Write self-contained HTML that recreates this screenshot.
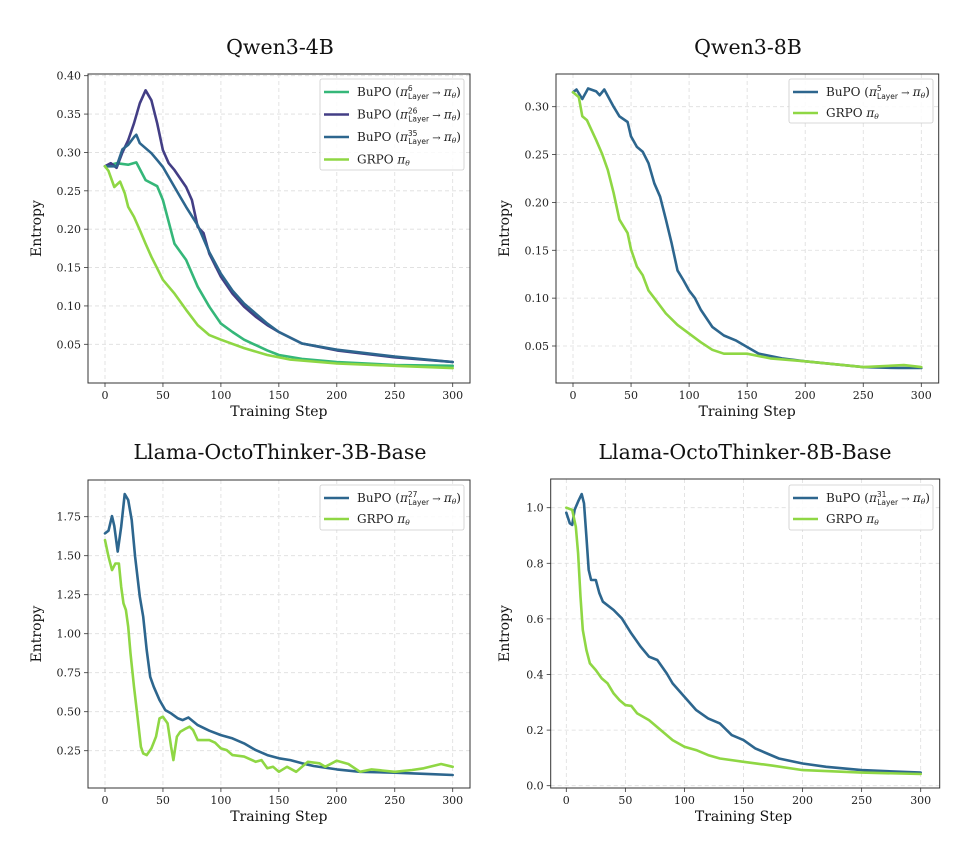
<!DOCTYPE html>
<html><head><meta charset="utf-8"><style>
html,body{margin:0;padding:0;background:#fff;}
svg{display:block;font-family:"DejaVu Serif","Liberation Serif",serif;}
</style></head><body>
<svg id="fig" width="962" height="854" viewBox="0 0 962 854" xmlns="http://www.w3.org/2000/svg"></svg>
<script>
// ---- data ----
const xTicks = [0,50,100,150,200,250,300];
// Qwen3-4B
const q4Steps6 = [0,10,20,27,35,45,50,60,70,80,90,100,110,120,130,140,150,170,200,250,300];
const q4Bupo6 = [0.282,0.286,0.284,0.287,0.264,0.256,0.238,0.181,0.16,0.125,0.099,0.077,0.066,0.056,0.049,0.042,0.036,0.031,0.027,0.023,0.022];
const q4Steps26 = [0,5,10,15,20,25,30,35,40,45,50,55,60,70,75,80,85,90,100,110,120,130,140,150,170,200,250,300];
const q4Bupo26 = [0.282,0.286,0.28,0.30,0.316,0.338,0.364,0.381,0.368,0.338,0.303,0.286,0.277,0.255,0.238,0.203,0.195,0.168,0.138,0.116,0.099,0.086,0.075,0.066,0.051,0.042,0.033,0.027];
const q4Steps35 = [0,10,15,20,25,27,30,40,45,50,60,65,70,80,90,100,110,120,130,140,150,170,200,250,300];
const q4Bupo35 = [0.282,0.282,0.304,0.31,0.32,0.323,0.312,0.299,0.29,0.281,0.255,0.242,0.229,0.205,0.17,0.142,0.12,0.103,0.09,0.077,0.066,0.051,0.043,0.034,0.027];
const q4StepsG = [0,3,8,13,17,20,25,30,35,40,45,50,60,70,80,90,100,120,140,160,200,250,300];
const q4Grpo = [0.282,0.276,0.255,0.262,0.247,0.229,0.216,0.199,0.181,0.164,0.149,0.134,0.116,0.095,0.075,0.062,0.056,0.045,0.036,0.03,0.025,0.022,0.019];
// Qwen3-8B
const q8StepsB = [0,3,8,13,20,23,27,35,40,47,50,55,60,65,70,75,80,85,90,95,100,105,110,120,130,140,150,160,180,200,250,280,300];
const q8Bupo = [0.315,0.318,0.308,0.319,0.316,0.312,0.318,0.30,0.29,0.284,0.269,0.258,0.253,0.241,0.22,0.206,0.182,0.157,0.129,0.119,0.108,0.10,0.088,0.07,0.061,0.056,0.049,0.042,0.037,0.034,0.028,0.027,0.027];
const q8StepsG = [0,5,8,12,20,25,30,35,40,47,50,55,60,65,70,80,90,100,110,120,130,150,170,200,250,285,300];
const q8Grpo = [0.315,0.31,0.29,0.286,0.265,0.251,0.234,0.21,0.182,0.168,0.151,0.133,0.124,0.108,0.10,0.084,0.072,0.063,0.054,0.046,0.042,0.042,0.037,0.034,0.028,0.03,0.028];
// Llama-OctoThinker-3B
const l3StepsB = [0,3,6,8,11,14,17,20,23,26,30,33,36,39,42,47,52,57,63,67,72,80,90,100,110,120,130,140,150,160,170,180,200,220,250,280,300];
const l3Bupo = [1.643,1.66,1.754,1.69,1.526,1.686,1.895,1.857,1.729,1.494,1.237,1.109,0.895,0.724,0.66,0.575,0.51,0.489,0.457,0.446,0.463,0.414,0.378,0.35,0.329,0.297,0.254,0.222,0.201,0.19,0.169,0.152,0.13,0.115,0.109,0.10,0.094];
const l3StepsG = [0,3,6,9,12,14,16,18,20,22,25,28,31,33,36,40,44,47,50,54,57,59,62,65,70,73,76,80,90,95,100,105,110,120,130,135,140,145,150,157,165,175,185,190,200,210,220,230,250,265,275,290,300];
const l3Grpo = [1.60,1.494,1.408,1.45,1.45,1.30,1.194,1.152,1.045,0.874,0.66,0.468,0.275,0.233,0.222,0.265,0.34,0.457,0.468,0.425,0.275,0.19,0.34,0.372,0.393,0.404,0.382,0.318,0.318,0.301,0.265,0.254,0.222,0.212,0.179,0.19,0.137,0.147,0.115,0.147,0.115,0.179,0.169,0.147,0.186,0.165,0.115,0.13,0.115,0.126,0.137,0.165,0.147];
// Llama-OctoThinker-8B
const l8StepsB = [0,3,5,7,10,13,15,17,19,21,25,28,31,40,47,55,63,70,77,85,90,100,110,120,130,140,150,160,170,180,200,220,250,300];
const l8Bupo = [0.982,0.944,0.938,0.992,1.022,1.049,1.016,0.896,0.776,0.74,0.74,0.692,0.662,0.632,0.602,0.548,0.5,0.464,0.452,0.404,0.368,0.32,0.272,0.242,0.224,0.182,0.164,0.134,0.116,0.098,0.08,0.068,0.056,0.047];
const l8StepsG = [0,5,8,10,12,14,17,20,25,30,35,40,45,50,55,60,70,80,90,100,110,120,130,150,175,200,250,300];
const l8Grpo = [1.0,0.992,0.932,0.836,0.68,0.56,0.488,0.44,0.416,0.386,0.368,0.332,0.308,0.29,0.287,0.26,0.236,0.2,0.164,0.14,0.128,0.11,0.098,0.086,0.072,0.056,0.047,0.042];
const q4YTicks = [0.05,0.10,0.15,0.20,0.25,0.30,0.35,0.40];
const q8YTicks = [0.05,0.10,0.15,0.20,0.25,0.30];
const l3YTicks = [0.25,0.50,0.75,1.00,1.25,1.50,1.75];
const l8YTicks = [0.0,0.2,0.4,0.6,0.8,1.0];

const C6='#35b779', C26='#433e85', CB='#2d668e', CG='#8fd744';
const NS='http://www.w3.org/2000/svg';
const fig=document.getElementById('fig');
function mk(tag,attrs,parent){const e=document.createElementNS(NS,tag);for(const k in attrs)e.setAttribute(k,attrs[k]);(parent||fig).appendChild(e);return e;}

const charts=[
 {id:'qwen3-4b',title:'Qwen3-4B',tx:280,ty:54,box:[88,74,470,383],x0:105,x300:452.7,ya:[0.40,75.7],yb:[0.05,344.3],yTicks:q4YTicks,fmt:2,ylx:41,
  series:[['bupo-layer6',q4Steps6,q4Bupo6,C6],['bupo-layer26',q4Steps26,q4Bupo26,C26],['bupo-layer35',q4Steps35,q4Bupo35,CB],['grpo',q4StepsG,q4Grpo,CG]],
  legend:{x:320,y:79,w:144,h:91,items:[[C6,'6'],[C26,'26'],[CB,'35'],[CG,null]],dy:22.5}},
 {id:'qwen3-8b',title:'Qwen3-8B',tx:748,ty:54,box:[556,74,938.7,383],x0:573,x300:921.3,ya:[0.30,106.7],yb:[0.05,346],yTicks:q8YTicks,fmt:2,ylx:509,
  series:[['bupo-layer5',q8StepsB,q8Bupo,CB],['grpo',q8StepsG,q8Grpo,CG]],
  legend:{x:789,y:79,w:144,h:44,items:[[CB,'5'],[CG,null]],dy:21}},
 {id:'llama-octothinker-3b',title:'Llama-OctoThinker-3B-Base',tx:280,ty:459,box:[88,480,470,788],x0:105,x300:452.7,ya:[1.75,516.7],yb:[0.25,750.7],yTicks:l3YTicks,fmt:2,ylx:41,
  series:[['bupo-layer27',l3StepsB,l3Bupo,CB],['grpo',l3StepsG,l3Grpo,CG]],
  legend:{x:320,y:485,w:144,h:45,items:[[CB,'27'],[CG,null]],dy:21}},
 {id:'llama-octothinker-8b',title:'Llama-OctoThinker-8B-Base',tx:745,ty:459,box:[550.7,479,939.7,788],x0:566.3,x300:920.7,ya:[1.0,507.7],yb:[0.0,785.7],yTicks:l8YTicks,fmt:1,ylx:509,
  series:[['bupo-layer31',l8StepsB,l8Bupo,CB],['grpo',l8StepsG,l8Grpo,CG]],
  legend:{x:789,y:485,w:144,h:45,items:[[CB,'31'],[CG,null]],dy:21}}
];

charts.forEach(c=>{
  const g=mk('g',{});
  
  
  const X=v=>c.x0+(c.x300-c.x0)*v/300;
  const Y=v=>c.ya[1]+(v-c.ya[0])*(c.yb[1]-c.ya[1])/(c.yb[0]-c.ya[0]);
  const [l,t,r,b]=c.box;
  const title=mk('text',{x:c.tx,y:c.ty,'text-anchor':'middle','font-size':'20.5',fill:'#111'},g);
  title.textContent=c.title;
  
  
  xTicks.forEach(v=>{
    const ln=mk('line',{x1:X(v),x2:X(v),y1:t,y2:b,stroke:'#ddd','stroke-width':0.8,'stroke-dasharray':'4,3'},g);
    
    
    const tk=mk('line',{x1:X(v),x2:X(v),y1:b,y2:b+4,stroke:'#333','stroke-width':0.8},g);
    
    
    const tl=mk('text',{x:X(v),y:b+16,'text-anchor':'middle','font-size':'11',fill:'#222'},g);
    tl.textContent=v;
    
    
  });
  c.yTicks.forEach(v=>{
    const ln=mk('line',{x1:l,x2:r,y1:Y(v),y2:Y(v),stroke:'#ddd','stroke-width':0.8,'stroke-dasharray':'4,3'},g);
    
    
    const tk=mk('line',{x1:l-4,x2:l,y1:Y(v),y2:Y(v),stroke:'#333','stroke-width':0.8},g);
    
    
    const tl=mk('text',{x:l-7,y:Y(v)+4,'text-anchor':'end','font-size':'11',fill:'#222'},g);
    tl.textContent=v.toFixed(c.fmt);
    
    
  });
  c.series.forEach(s=>{
    const [name,xs,ys,col]=s;
    const d=xs.map((x,i)=>(i?'L':'M')+X(x).toFixed(1)+','+Y(ys[i]).toFixed(1)).join(' ');
    const p=mk('path',{d:d,fill:'none',stroke:col,'stroke-width':2.6,'stroke-linejoin':'round','stroke-linecap':'round'},g);
    
    
  });
  const fr=mk('rect',{x:l,y:t,width:r-l,height:b-t,fill:'none',stroke:'#333','stroke-width':1},g);
  
  
  const xl=mk('text',{x:(X(0)+X(300))/2,y:b+33,'text-anchor':'middle','font-size':'14',fill:'#111'},g);
  xl.textContent='Training Step';
  
  
  const cy=(t+b)/2;
  const yl=mk('text',{x:c.ylx,y:cy,'text-anchor':'middle','font-size':'14',fill:'#111',transform:'rotate(-90 '+c.ylx+' '+cy+')'},g);
  yl.textContent='Entropy';
  
  
  const L=c.legend;
  const lg=mk('g',{},g);
  
  
  mk('rect',{x:L.x,y:L.y,width:L.w,height:L.h,rx:2,fill:'#fff','fill-opacity':0.85,stroke:'#ccc','stroke-width':0.8},lg);
  L.items.forEach((it,i)=>{
    const yy=L.y+13+i*L.dy;
    const ent=mk('g',{},lg);
    
    
    mk('line',{x1:L.x+4,x2:L.x+29,y1:yy,y2:yy,stroke:it[0],'stroke-width':2.6},ent);
    const tx=mk('text',{x:L.x+37,y:yy+4,'font-size':'12',fill:'#222'},ent);
    if(it[1]){
      tx.innerHTML='BuPO (<tspan font-style="italic">π</tspan><tspan font-size="7.5" dy="-5" font-family="DejaVu Sans">'+it[1]+'</tspan><tspan font-size="7.5" dx="-'+(it[1].length*4.6)+'" dy="8" font-family="DejaVu Sans">Layer</tspan><tspan dy="-3" font-size="10"> → </tspan><tspan font-style="italic">π</tspan><tspan font-size="7.5" dy="2" font-style="italic">θ</tspan><tspan dy="-2">)</tspan>';
    } else {
      tx.innerHTML='GRPO <tspan font-style="italic">π</tspan><tspan font-size="7.5" dy="2" font-style="italic">θ</tspan>';
    }
  });
});
</script>
</body></html>
